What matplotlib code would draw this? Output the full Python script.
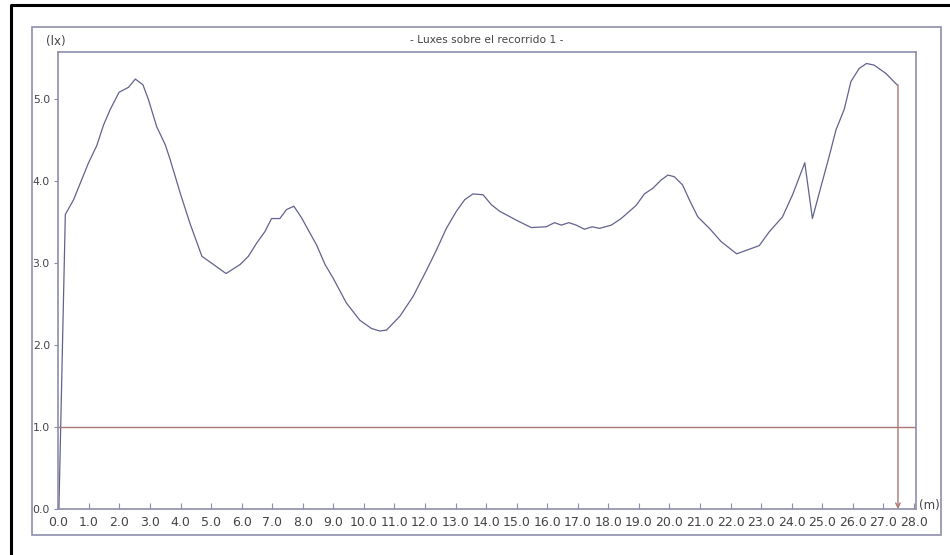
import matplotlib.pyplot as plt
from matplotlib.lines import Line2D
from matplotlib.patches import Rectangle

# illuminance along path 1
dist_m = [0.02, 0.23, 0.50, 0.99, 1.26, 1.48, 1.70, 1.99, 2.30, 2.52, 2.77, 2.95,
          3.22, 3.50, 3.66, 3.99, 4.31, 4.70, 5.08, 5.49, 5.95, 6.22, 6.49, 6.76,
          6.98, 7.25, 7.47, 7.71, 7.96, 8.24, 8.45, 8.73, 9.00, 9.43, 9.87, 10.25,
          10.52, 10.74, 11.18, 11.61, 12.05, 12.38, 12.70, 13.03, 13.30, 13.57,
          13.90, 14.17, 14.44, 14.99, 15.48, 15.97, 16.24, 16.46, 16.71, 16.95,
          17.22, 17.47, 17.71, 18.10, 18.42, 18.91, 19.18, 19.46, 19.73, 19.95,
          20.16, 20.43, 20.65, 20.93, 21.31, 21.69, 22.20, 22.94, 23.27, 23.70,
          24.03, 24.43, 24.68, 24.96, 25.23, 25.45, 25.72, 25.94, 26.21, 26.45,
          26.70, 27.08, 27.45]
lux = [0.00, 3.59, 3.77, 4.22, 4.43, 4.68, 4.87, 5.08, 5.14, 5.24, 5.17, 4.99,
       4.66, 4.44, 4.26, 3.85, 3.48, 3.08, 2.98, 2.87, 2.98, 3.08, 3.24, 3.38,
       3.54, 3.54, 3.65, 3.69, 3.55, 3.36, 3.22, 2.98, 2.81, 2.51, 2.30, 2.20,
       2.17, 2.18, 2.35, 2.59, 2.91, 3.16, 3.42, 3.63, 3.77, 3.84,
       3.83, 3.71, 3.63, 3.52, 3.43, 3.44, 3.49, 3.46, 3.49, 3.46,
       3.41, 3.44, 3.42, 3.46, 3.54, 3.70, 3.84, 3.91, 4.01, 4.07,
       4.05, 3.95, 3.77, 3.56, 3.42, 3.26, 3.11, 3.21, 3.38, 3.56,
       3.83, 4.22, 3.54, 3.93, 4.30, 4.62, 4.87, 5.21, 5.37, 5.43,
       5.41, 5.31, 5.17]

min_lux = 1.0
path_end = 27.48

x_ticks = [float(i) for i in range(29)]
y_ticks = [0.0, 1.0, 2.0, 3.0, 4.0, 5.0]

curve_col = '#62628f'
frame_col = '#8e8eaa'
limit_col = '#a87872'
text_col = '#444444'

plt.rcParams['font.family'] = 'DejaVu Sans'

fig = plt.figure(figsize=(9.5, 5.55), dpi=100)
fig.patch.set_facecolor('white')

# outer black border (left and top)
fig.add_artist(Line2D([10.5 / 950, 10.5 / 950, 1.0], [0.0, 1 - 5 / 555, 1 - 5 / 555],
                      transform=fig.transFigure, color='black', lw=2.2))
# panel frame
fig.add_artist(Rectangle((32 / 950, 20 / 555), 909 / 950, 508 / 555,
                         transform=fig.transFigure, fill=False,
                         edgecolor=frame_col, lw=1.2))

ax = fig.add_axes([58.3 / 950, 46 / 555, (915.7 - 58.3) / 950, (509 - 52) / 555])
ax.plot(dist_m, lux, color=curve_col, lw=0.9)
ax.axhline(min_lux, color=limit_col, lw=1.0)
ax.annotate('', xy=(path_end, 0.0), xytext=(path_end, lux[-1]),
            arrowprops=dict(arrowstyle='->', color=limit_col, lw=1.0,
                            mutation_scale=8, shrinkA=0, shrinkB=0))

ax.set_xlim(0, 28.06)
ax.set_ylim(0, 5.57)
ax.set_xticks(x_ticks)
ax.set_xticklabels([f'{v:.1f}' for v in x_ticks])
ax.set_yticks(y_ticks)
ax.set_yticklabels([f'{v:.1f}' for v in y_ticks])
ax.tick_params(axis='x', direction='in', length=4, width=0.8, color=frame_col,
               labelsize=9, labelcolor=text_col, pad=5)
ax.tick_params(axis='y', direction='out', length=3, width=0.8, color=frame_col,
               labelsize=7.8, labelcolor=text_col, pad=3)
for s in ax.spines.values():
    s.set_color(frame_col)
    s.set_linewidth(1.2)

fig.text(56 / 950, 1 - 42 / 555, '(lx)', ha='center', va='center',
         fontsize=8.5, color=text_col)
fig.text(929 / 950, 1 - 506 / 555, '(m)', ha='center', va='center',
         fontsize=8.5, color=text_col)
fig.text(487 / 950, 1 - 40 / 555, '- Luxes sobre el recorrido 1 -', ha='center',
         va='center', fontsize=7.7, color=text_col)

fig.savefig('out.png', dpi=100)
